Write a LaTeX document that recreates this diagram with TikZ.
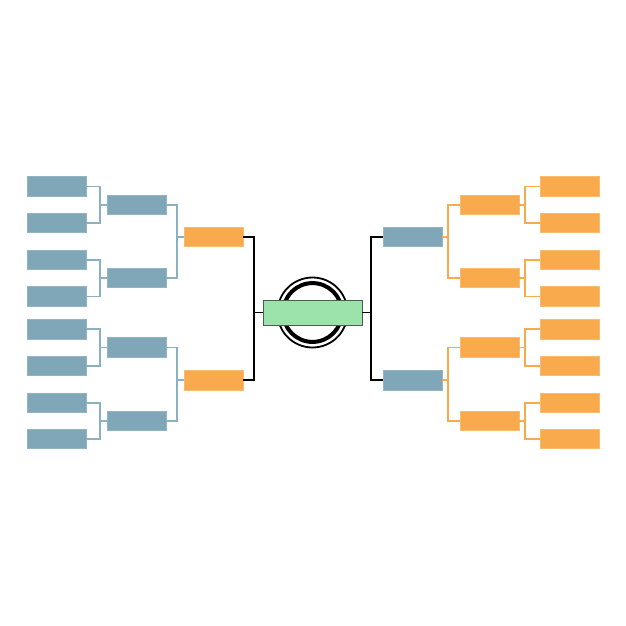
\documentclass[tikz,border=0pt]{standalone}
\usetikzlibrary{calc}
\definecolor{BlueClr}{RGB}{127,167,184}
\definecolor{OrangeClr}{RGB}{249,170,76}
\definecolor{GreenClr}{RGB}{155,226,171}
\definecolor{EdgeClr}{RGB}{80,90,85}

\begin{document}
\begin{tikzpicture}[x=1pt,y=-1pt,
  team/.style={minimum width=59pt,minimum height=19.5pt,inner sep=0pt,line width=.6pt},
  bluebox/.style={team,fill=BlueClr,draw=BlueClr!85!white},
  orangebox/.style={team,fill=OrangeClr,draw=OrangeClr!80!white},
  blueline/.style={line width=1.9pt,color=BlueClr!90!white},
  orangeline/.style={line width=1.9pt,color=OrangeClr},
  blackline/.style={line width=1.9pt,color=black}]

\useasboundingbox (0,0) rectangle (626,626);

% left side, first round
\node[bluebox] (L1) at (56.5,186.5) {};
\node[bluebox] (L2) at (56.5,223) {};
\node[bluebox] (L3) at (56.5,260) {};
\node[bluebox] (L4) at (56.5,296.5) {};
\node[bluebox] (L5) at (56.5,329.3) {};
\node[bluebox] (L6) at (56.5,366) {};
\node[bluebox] (L7) at (56.5,402.7) {};
\node[bluebox] (L8) at (56.5,439) {};

% left side, quarter finals
\node[bluebox] (LA) at (136.5,204.7) {};
\node[bluebox] (LB) at (136.5,278) {};
\node[bluebox] (LC) at (136.5,347.5) {};
\node[bluebox] (LD) at (136.5,420.8) {};

% left side, semi finals
\node[orangebox] (LS1) at (213.5,237) {};
\node[orangebox] (LS2) at (213.5,380.3) {};

% right side, first round
\node[orangebox] (R1) at (569.5,186.5) {};
\node[orangebox] (R2) at (569.5,223) {};
\node[orangebox] (R3) at (569.5,260) {};
\node[orangebox] (R4) at (569.5,296.5) {};
\node[orangebox] (R5) at (569.5,329.3) {};
\node[orangebox] (R6) at (569.5,366) {};
\node[orangebox] (R7) at (569.5,402.7) {};
\node[orangebox] (R8) at (569.5,439) {};

% right side, quarter finals
\node[orangebox] (RA) at (489.5,204.7) {};
\node[orangebox] (RB) at (489.5,278) {};
\node[orangebox] (RC) at (489.5,347.5) {};
\node[orangebox] (RD) at (489.5,420.8) {};

% right side, semi finals
\node[bluebox] (RS1) at (412.5,237) {};
\node[bluebox] (RS2) at (412.5,380.3) {};

% final
\coordinate (ctr) at (312.5,312.5);
\draw[line width=1.8pt] (ctr) circle (35);
\draw[line width=4pt] (ctr) circle (29.4);
\node[minimum width=99pt,minimum height=25pt,inner sep=0pt,fill=GreenClr,draw=EdgeClr,line width=.9pt] (final) at (ctr) {};

\draw[blueline] (L1.east) -- ++(14,0) |- (L2.east) (LA.west) -- ++(-7,0);
\draw[blueline] (L3.east) -- ++(14,0) |- (L4.east) (LB.west) -- ++(-7,0);
\draw[blueline] (L5.east) -- ++(14,0) |- (L6.east) (LC.west) -- ++(-7,0);
\draw[blueline] (L7.east) -- ++(14,0) |- (L8.east) (LD.west) -- ++(-7,0);

\draw[blueline] (LA.east) -- ++(10.5,0) |- (LB.east) (LS1.west) -- ++(-7.5,0);
\draw[blueline] (LC.east) -- ++(10.5,0) |- (LD.east) (LS2.west) -- ++(-7.5,0);

\draw[blackline] (LS1.east) -- ++(11,0) |- (LS2.east) (final.west) -- ++(-9,0);
\draw[blackline] (RS1.west) -- ++(-11.5,0) |- (RS2.west) (final.east) -- ++(9,0);

\draw[orangeline] (RA.west) -- ++(-11.5,0) |- (RB.west) (RS1.east) -- ++(6.5,0);
\draw[orangeline] (RC.west) -- ++(-11.5,0) |- (RD.west) (RS2.east) -- ++(6.5,0);

\draw[orangeline] (R1.west) -- ++(-15,0) |- (R2.west) (RA.east) -- ++(6,0);
\draw[orangeline] (R3.west) -- ++(-15,0) |- (R4.west) (RB.east) -- ++(6,0);
\draw[orangeline] (R5.west) -- ++(-15,0) |- (R6.west) (RC.east) -- ++(6,0);
\draw[orangeline] (R7.west) -- ++(-15,0) |- (R8.west) (RD.east) -- ++(6,0);

\end{tikzpicture}
\end{document}
